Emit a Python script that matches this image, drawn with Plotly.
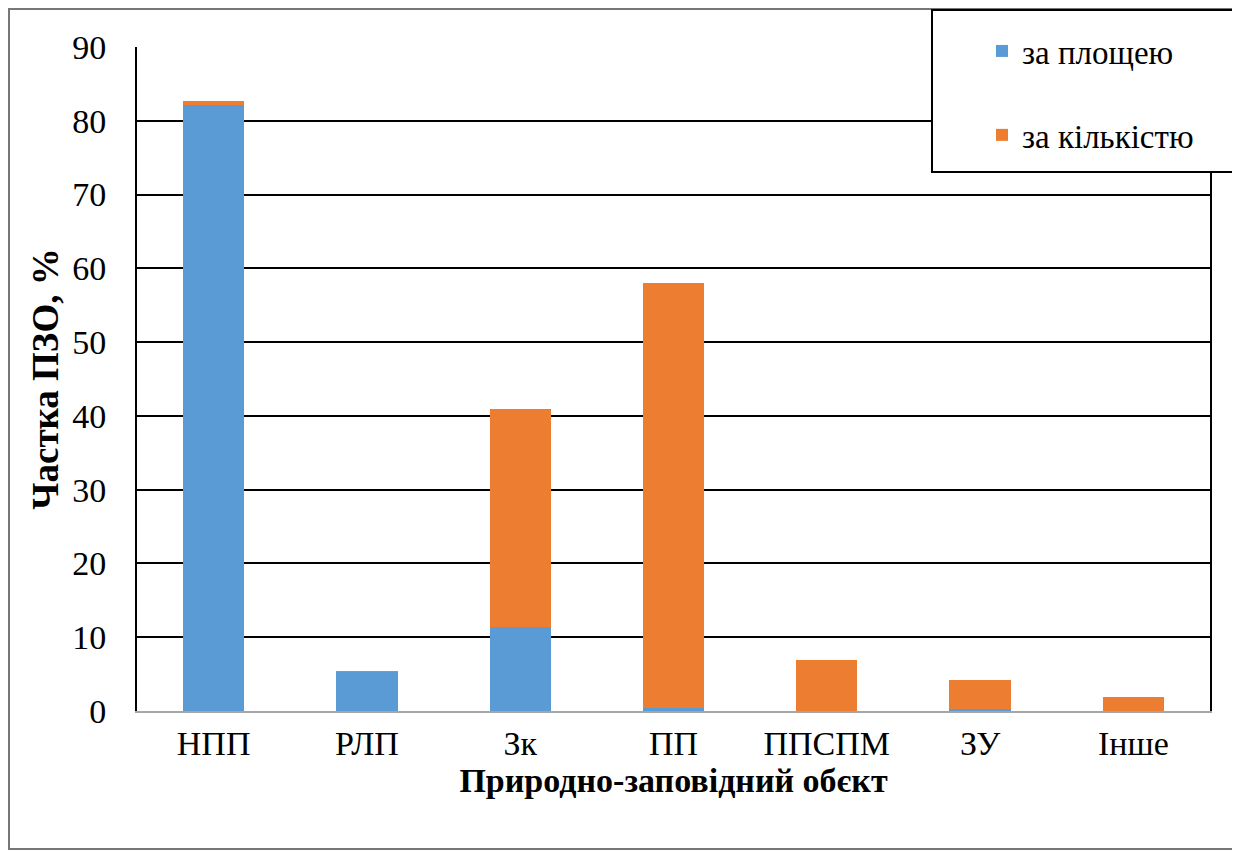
import plotly.graph_objects as go

categories = ["НПП", "РЛП", "Зк", "ПП", "ППСПМ", "ЗУ", "Інше"]
area_share = [82.2, 5.3, 11.4, 0.4, 0.0, 0.3, 0.0]
count_share = [0.5, 0.1, 29.5, 57.6, 6.9, 3.9, 1.9]
series_names = ["за площею", "за кількістю"]
y_ticks = [0, 10, 20, 30, 40, 50, 60, 70, 80, 90]

W, H = 1240, 852
OFF = 8  # page offset of the figure in the screenshot
L, R, T, B = 137 - OFF, 38, 47 - OFF, 149
pw, ph = W - L - R, H - T - B

def px(x):
    return (x - OFF - L) / pw

def py(y):
    return (H - B - (y - OFF)) / ph

FONT = "Liberation Serif"

fig = go.Figure()
fig.add_trace(go.Bar(x=categories, y=area_share, name=series_names[0],
                     marker=dict(color="#5B9BD5", line=dict(width=0)),
                     legendgroup="a"))
fig.add_trace(go.Bar(x=categories, y=count_share, name=series_names[1],
                     marker=dict(color="#ED7D31", line=dict(width=0)),
                     legendgroup="b"))

fig.update_layout(
    width=W, height=H,
    margin=dict(l=L, r=R, t=T, b=B, autoexpand=False),
    barmode="stack", bargap=0.6,
    plot_bgcolor="white", paper_bgcolor="white",
    font=dict(family=FONT, color="black", size=34),
    showlegend=True,
    legend=dict(x=px(982), y=py(23), xanchor="left", yanchor="top",
                bgcolor="rgba(0,0,0,0)", borderwidth=0,
                font=dict(family=FONT, size=33), tracegroupgap=38,
                traceorder="grouped"),
    xaxis=dict(showline=True, linecolor="#A6A6A6", linewidth=2, mirror=False,
               ticks="outside", ticklen=1, tickcolor="rgba(0,0,0,0)",
               tickfont=dict(family=FONT, size=34),
               title=dict(text="<b>Природно-заповідний обєкт</b>",
                          font=dict(family=FONT, size=34), standoff=6)),
    yaxis=dict(range=[0, 90], tickvals=y_ticks, showgrid=True,
               gridcolor="black", gridwidth=2, zeroline=False,
               showline=True, linecolor="black", linewidth=2, mirror=True,
               ticks="outside", ticklen=22, tickcolor="rgba(0,0,0,0)",
               tickfont=dict(family=FONT, size=34),
               title=dict(text="<b>Частка ПЗО, %</b>",
                          font=dict(family=FONT, size=37), standoff=2)),
    shapes=[
        dict(type="rect", xref="paper", yref="paper",
             x0=px(9), x1=px(1237), y0=py(849), y1=py(9),
             line=dict(color="#777777", width=2), layer="below"),
        dict(type="rect", xref="paper", yref="paper",
             x0=px(932), x1=px(1250), y0=py(172), y1=py(10),
             line=dict(color="black", width=2), fillcolor="white", layer="above"),
    ],
)

fig.write_html("out.html")
